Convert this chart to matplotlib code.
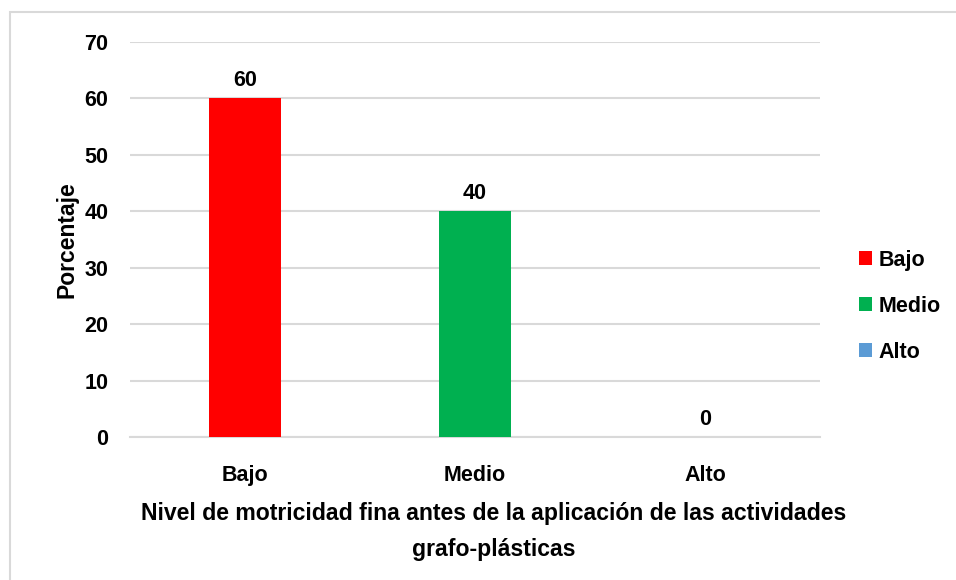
import matplotlib
matplotlib.use('Agg')
import matplotlib.pyplot as plt
from matplotlib.patches import Rectangle

categories = ['Bajo', 'Medio', 'Alto']
values = [60, 40, 0]
colors = ['#FF0000', '#00B050', '#5B9BD5']
y_ticks = [0, 10, 20, 30, 40, 50, 60, 70]

plt.rcParams['font.family'] = ['Liberation Sans', 'DejaVu Sans']
plt.rcParams['font.weight'] = 'bold'

fs = 15.5

fig = plt.figure(figsize=(9.56, 5.8), dpi=100)
ax = fig.add_axes([130 / 956, 1 - 437 / 580, 690 / 956, 395 / 580])

# outer frame (only left/top visible in the original)
fig.patches.append(Rectangle((10 / 956, -0.05), 1.2, 1 - 11.5 / 580 + 0.05,
                             transform=fig.transFigure, fill=False,
                             edgecolor='#D9D9D9', linewidth=1.5))

x = list(range(len(categories)))
bars = ax.bar(x, values, width=0.313, color=colors, label=categories, zorder=3)
for xi, v in zip(x, values):
    ax.annotate(f"{v}", (xi, v), xytext=(0, 8.6), textcoords='offset points',
                ha='center', va='baseline', fontsize=fs, fontweight='bold')

ax.set_xlim(-0.5, 2.5)
ax.set_ylim(0, 70)
ax.set_yticks(y_ticks)
ax.set_xticks(x)
ax.set_xticklabels(categories)
ax.tick_params(axis='both', length=0, labelsize=fs)
ax.tick_params(axis='y', pad=15.5)
ax.tick_params(axis='x', pad=20.5)
ax.grid(axis='y', color='#D9D9D9', linewidth=1.5, zorder=0)
for s in ['top', 'right', 'left']:
    ax.spines[s].set_visible(False)
ax.spines['bottom'].set_color('#D9D9D9')
ax.spines['bottom'].set_linewidth(1.5)

ax.set_ylabel('Porcentaje', fontsize=16.5, fontweight='bold', labelpad=4)

# x title sits a bit right of the plot centre in the original
ax.set_xlabel('Nivel de motricidad fina antes de la aplicación de las actividades\ngrafo-plásticas',
              fontsize=16.6, fontweight='bold', linespacing=1.7, va='top')
ax.xaxis.set_label_coords((494 - 130) / 690, -(502 - 437) / 395)

leg = fig.legend(handles=bars, labels=categories, loc='upper left',
                 bbox_to_anchor=(859 / 956, 1 - 250 / 580), frameon=False,
                 fontsize=fs, handlelength=0.62, handleheight=0.62,
                 handletextpad=0.3, labelspacing=1.15, borderpad=0,
                 borderaxespad=0)

fig.savefig('out.png', dpi=100)
